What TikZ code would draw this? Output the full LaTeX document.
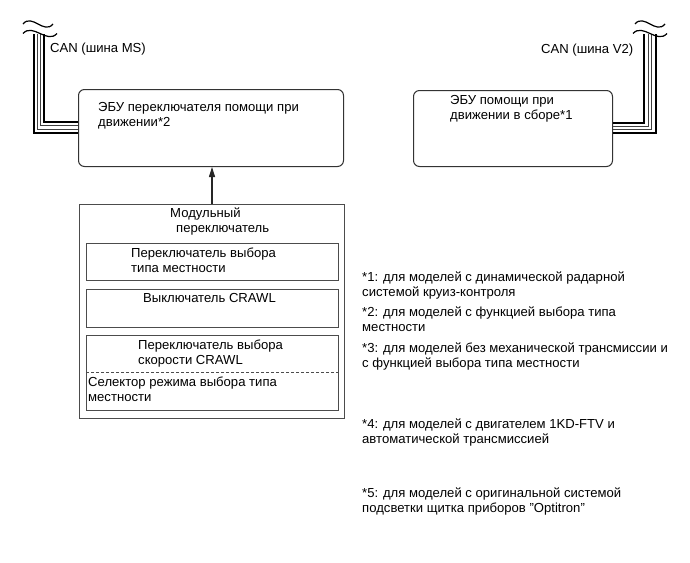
\documentclass[tikz,border=0pt]{standalone}
\usepackage{fontspec}
\setmainfont{Liberation Sans}
\usetikzlibrary{arrows.meta, positioning}

\tikzstyle{ecu} = [
  rectangle, draw=black!80, line width=1pt,
  rounded corners=6pt, anchor=north west, inner sep=0pt
]
\tikzstyle{module} = [
  rectangle, draw=black!70, line width=1pt,
  anchor=north west, inner sep=0pt
]
\tikzstyle{txt} = [
  anchor=north west, inner sep=0pt, align=left,
  font=\fontsize{13.1}{14.8}\selectfont
]
\tikzstyle{busthick} = [line width=2pt, black]
\tikzstyle{busthin} = [line width=0.9pt, black!75]
\tikzstyle{wave} = [line width=1.2pt, black]
\tikzstyle{arrow} = [-{Triangle[length=10pt, width=6pt]}, line width=1.1pt, black!85]

\begin{document}
\begin{tikzpicture}[x=1pt, y=-1pt]

  \fill[white] (0,0) rectangle (690,562);
  \useasboundingbox (0,0) rectangle (690,562);

  % ECUs
  \node[ecu, minimum width=265pt, minimum height=77pt] (ecuL) at (78,89) {};
  \node[ecu, minimum width=199pt, minimum height=76pt] (ecuR) at (413,90) {};
  \node[txt] (ecuLtext) at (98,102) {ЭБУ переключателя помощи при\\движении*2};
  \node[txt] (ecuRtext) at (450,95) {ЭБУ помощи при\\движении в сборе*1};

  % Modular switch
  \node[module, minimum width=265pt, minimum height=214.5pt] (modsw) at (79,203.5) {};
  \node[module, minimum width=252pt, minimum height=37.3pt] (sw1) at (86,242.7) {};
  \node[module, minimum width=252pt, minimum height=37.4pt] (sw2) at (86,289.3) {};
  \node[module, minimum width=252pt, minimum height=75pt] (sw3) at (86,335) {};
  \draw[black!70, line width=0.8pt, dash pattern=on 3pt off 2pt]
    (sw3.west |- 0,372.3) -- (sw3.east |- 0,372.3);

  \node[txt] (modtext) at (170,208) {Модульный\\\hspace*{6pt}переключатель};
  \node[txt] (sw1text) at (131,248) {Переключатель выбора\\типа местности};
  \node[txt] (sw2text) at (143,293) {Выключатель CRAWL};
  \node[txt] (sw3text) at (138,340) {Переключатель выбора\\скорости CRAWL};
  \node[txt] (seltext) at (88,377) {Селектор режима выбора типа\\местности};

  \draw[arrow] (modsw.north) -- (modsw.north |- ecuL.south);

  % CAN buses
  \node[txt, anchor=west] (canMS) at (50,49) {CAN (шина MS)};
  \node[txt, anchor=west] (canV2) at (541,50) {CAN (шина V2)};

  \foreach \n/\x/\y/\s in {1/33.5/132.5/busthick, 2/37.3/129/busthin,
                           3/40.7/125.5/busthin, 4/44/122/busthick}{
    \coordinate (ms\n) at (\x,34);
    \draw[\s] (ms\n) |- (ecuL.west |- 0,\y);
  }
  \foreach \n/\x/\y/\s in {1/643.5/123/busthick, 2/648/126.5/busthin,
                           3/651.5/129.5/busthin, 4/655.5/133/busthick}{
    \coordinate (vt\n) at (\x,34);
    \draw[\s] (ecuR.east |- 0,\y) -| (vt\n);
  }

  % Breaks
  \draw[wave] (23,24) .. controls (32,13) and (44,35) .. (53,24);
  \draw[wave] (23,33.5) .. controls (33,22.5) and (47,44.5) .. (57,33.5);
  \draw[wave] (635,24) .. controls (644,13) and (656,35) .. (665,24);
  \draw[wave] (633,33.5) .. controls (643,22.5) and (657,44.5) .. (667,33.5);

  % Notes
  \node[txt] (note1) at (362,272) {*1: для моделей с динамической радарной\\системой круиз-контроля};
  \node[txt] (note2) at (362,307) {*2: для моделей с функцией выбора типа\\местности};
  \node[txt] (note3) at (362,343) {*3: для моделей без механической трансмиссии и\\с функцией выбора типа местности};
  \node[txt] (note4) at (362,419) {*4: для моделей с двигателем 1KD-FTV и\\автоматической трансмиссией};
  \node[txt] (note5) at (362,488) {*5: для моделей с оригинальной системой\\подсветки щитка приборов "Optitron"};

\end{tikzpicture}
\end{document}
